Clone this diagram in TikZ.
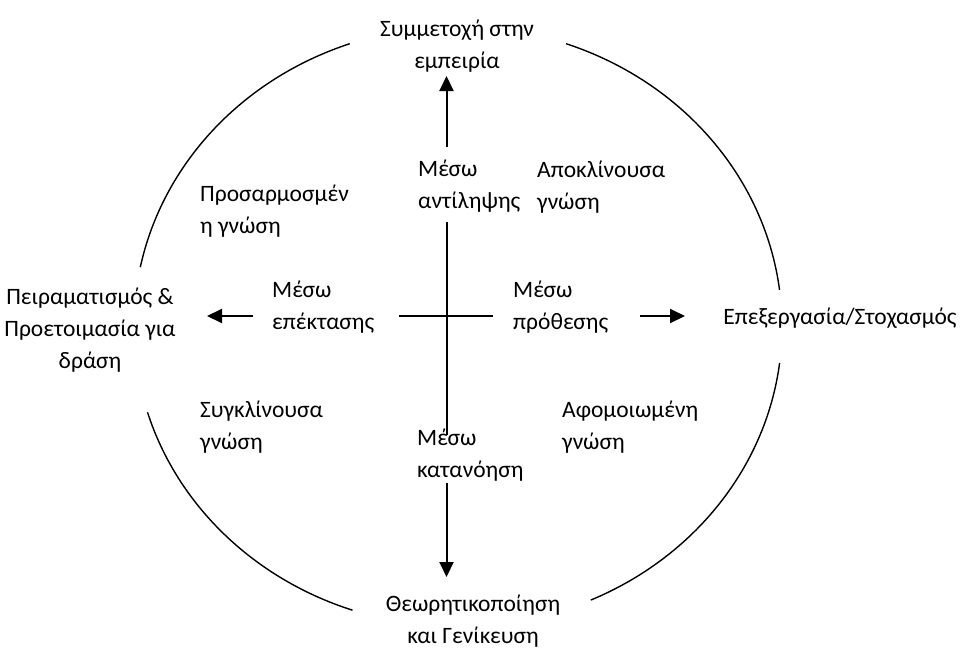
\documentclass[tikz,border=0pt]{standalone}
\usepackage{fontspec}
\setmainfont{Carlito}
\usetikzlibrary{arrows.meta}
\newcommand{\lblfont}{\fontsize{23.5}{32}\selectfont}
\newcommand{\fs}{\rule{0pt}{19pt}}
\begin{document}
\begin{tikzpicture}[x=1pt,y=-1pt,
  lbl/.style={font=\lblfont,inner sep=0pt,align=left,anchor=north west},
  clbl/.style={font=\lblfont,inner sep=0pt,align=center,anchor=north},
  ring/.style={line width=1.4pt},
  axis/.style={line width=2pt},
  arr/.style={line width=2pt,-{Triangle[length=15pt,width=14pt]}}]
\useasboundingbox (0,0) rectangle (963,648);
% main labels
\node[clbl] (top) at (457,17) {\fs Συμμετοχή στην\\εμπειρία};
\node[clbl] (left) at (90,285) {\fs Πειραματισμός \&\\Προετοιμασία για\\δράση};
\node[clbl] (right) at (840,305) {\fs Επεξεργασία/Στοχασμός};
\node[clbl] (bottom) at (473,592) {\fs Θεωρητικοποίηση\\και Γενίκευση};
% inner labels
\node[lbl] (mtop) at (418,157) {\fs Μέσω\\αντίληψης};
\node[lbl] (div) at (537,158) {\fs Αποκλίνουσα\\γνώση};
\node[lbl] (acc) at (200,182) {\fs Προσαρμοσμέν\\η γνώση};
\node[lbl] (mleft) at (272,278) {\fs Μέσω\\επέκτασης};
\node[lbl] (mright) at (513,278) {\fs Μέσω\\πρόθεσης};
\node[lbl] (conv) at (200,398) {\fs Συγκλίνουσα\\γνώση};
\node[lbl] (mbot) at (417,426) {\fs Μέσω\\κατανόηση};
\node[lbl] (assim) at (562,398) {\fs Αφομοιωμένη\\γνώση};
% ellipse arcs
\draw[ring] (140.3,267.2) arc[start angle=191.4,end angle=250.5,x radius=324,y radius=300];
\draw[ring] (566.1,43.7) arc[start angle=289.5,end angle=353,x radius=324,y radius=300];
\draw[ring] (779.6,363) arc[start angle=7,end angle=65.8,x radius=324,y radius=300];
\draw[ring] (352.5,610.2) arc[start angle=109,end angle=163.4,x radius=324,y radius=300];
% cross
\coordinate (vt) at (446.5,222);
\coordinate (vb) at (446.5,435);
\coordinate (hl) at (399,316);
\coordinate (hr) at (493,316);
\draw[axis] (vt) -- (vb);
\draw[axis] (hl) -- (hr);
% arrows
\coordinate (a1s) at (446.5,147);
\coordinate (a1e) at (446.5,76);
\coordinate (a2s) at (446.5,483);
\coordinate (a2e) at (446.5,577);
\coordinate (a3s) at (253,316);
\coordinate (a3e) at (207,316);
\coordinate (a4s) at (640,316);
\coordinate (a4e) at (685,316);
\draw[arr] (a1s) -- (a1e);
\draw[arr] (a2s) -- (a2e);
\draw[arr] (a3s) -- (a3e);
\draw[arr] (a4s) -- (a4e);
\end{tikzpicture}
\end{document}
